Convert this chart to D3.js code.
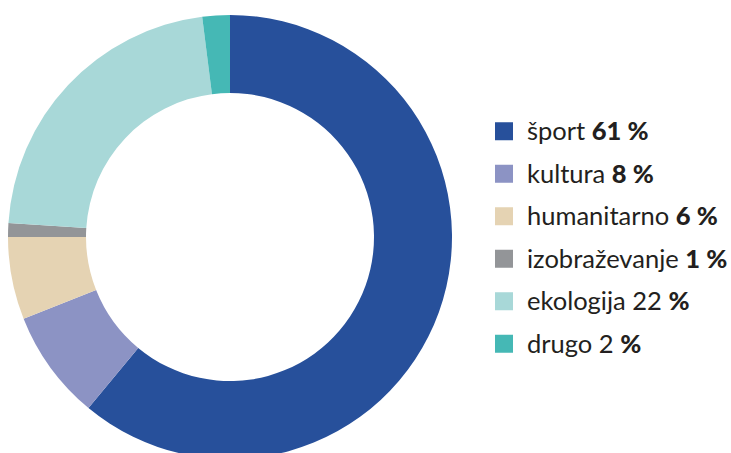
<!DOCTYPE html>
<html>
<head>
<meta charset="utf-8">
<script src="https://cdn.jsdelivr.net/npm/d3@7"></script>
<style>
  body { margin: 0; background: #fff; }
  svg { display: block; font-family: "Lato", "Open Sans", sans-serif; }
</style>
</head>
<body>
<div id="donut"></div>
<script>
const categories = ["šport", "kultura", "humanitarno", "izobraževanje", "ekologija", "drugo"];
const values     = [61, 8, 6, 1, 22, 2];
const colors     = ["#27509b", "#8c93c4", "#e5d3b3", "#939598", "#a8d8d8", "#45b8b5"];
// which parts of the label are bold: the number and/or the percent sign
const boldNumber = [true, true, true, true, false, false];

const data = categories.map((c, i) => ({ name: c, value: values[i], color: colors[i], boldNum: boldNumber[i] }));

const width = 731, height = 453;
const cx = 230, cy = 237;
const outerR = 222, innerR = 144;

const svg = d3.select("#donut")
  .append("svg")
  .attr("width", width)
  .attr("height", height);

const pie = d3.pie().value(d => d.value).sort(null);
const arc = d3.arc().innerRadius(innerR).outerRadius(outerR);

svg.append("g")
  .attr("transform", `translate(${cx}, ${cy})`)
  .selectAll("path")
  .data(pie(data))
  .join("path")
    .attr("d", arc)
    .attr("fill", d => d.data.color);

const legendY = d3.scaleBand()
  .domain(categories)
  .range([110, 365])
  .paddingInner(0);

const legend = svg.append("g")
  .selectAll("g")
  .data(data)
  .join("g")
    .attr("transform", d => `translate(495, ${legendY(d.name) + legendY.bandwidth() / 2})`);

legend.append("rect")
  .attr("x", 0)
  .attr("y", -9)
  .attr("width", 18)
  .attr("height", 18)
  .attr("fill", d => d.color);

const txt = legend.append("text")
  .attr("x", 32)
  .attr("y", 9)
  .attr("fill", "#231f20")
  .style("font-size", "25.5px");

txt.append("tspan").text(d => d.name + " ");
txt.append("tspan")
  .style("font-weight", d => d.boldNum ? "900" : "normal")
  .text(d => d.value + " ");
txt.append("tspan")
  .style("font-weight", "900")
  .text("%");
</script>
</body>
</html>
